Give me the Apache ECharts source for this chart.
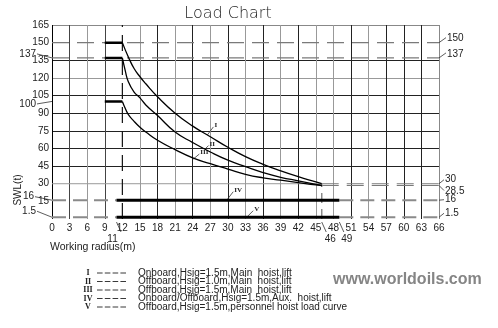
<!DOCTYPE html>
<html>
<head>
<meta charset="utf-8">
<script src="https://cdn.jsdelivr.net/npm/echarts@6/dist/echarts.min.js"></script>
<style>
  html, body { margin: 0; padding: 0; background: #fff; }
  #chart { width: 498px; height: 328px; }
</style>
</head>
<body>
<div id="chart"></div>
<script>
// Safe working load (t) against working radius (m) for each hoist condition
const curveIRadius   = [12, 13, 14, 15, 16, 18, 21, 24, 27, 30, 33, 36, 39, 42, 45, 46];
const curveILoad     = [150, 138, 128, 121, 115, 104, 90, 79, 70, 61, 53, 46.5, 41, 36, 31.5, 30];
const curveIIRadius  = [12, 12.5, 13, 14, 15, 16, 18, 21, 24, 27, 30, 33, 36, 39, 42, 45, 46];
const curveIILoad    = [137, 126, 117, 108, 103, 97, 88, 74, 65, 57, 50, 44.5, 39.5, 35.5, 32.5, 29.5, 28.5];
const curveIIIRadius = [12, 12.5, 13, 14, 15, 16, 18, 21, 24, 27, 30, 33, 36, 39, 42, 45, 46];
const curveIIILoad   = [100, 94, 89, 83, 78, 74, 67, 59, 52, 47, 42.5, 38, 35, 33, 31, 29, 28.5];

// Constant-load segment before the minimum radius
const flatRadius = [9, 12];
const maxLoads = [150, 137, 100];

// Aux hoist (IV) and personnel hoist (V)
const auxRadius = [11, 49];
const auxLoad = 16;
const personnelLoad = 1.5;

// Reference values called out around the grid
const minRadius = 12;
const maxMainRadius = 46;
const leftMarks = [137, 100, 16, 1.5];
const rightMarks = [150, 137, 30, 28.5, 16, 1.5];
const bottomMarks = [11, 46, 49];

const radiusMax = 66, radiusStep = 3;
const loadMax = 165, loadStep = 15;

const legendNumerals = ['I', 'II', 'III', 'IV', 'V'];
const legendTexts = [
  'Onboard,Hsig=1.5m,Main  hoist,lift',
  'Offboard,Hsig=1.0m,Main  hoist,lift',
  'Offboard,Hsig=1.5m,Main  hoist,lift',
  'Onboard/Offboard,Hsig=1.5m,Aux.  hoist,lift',
  'Offboard,Hsig=1.5m,personnel hoist load curve'
];

const FONT = '"Liberation Sans", Arial, sans-serif';
const pairs = (xs, ys) => xs.map((x, i) => [x, ys[i]]);
const flat = (xs, y) => xs.map(x => [x, y]);

const chart = echarts.init(document.getElementById('chart'), null, { renderer: 'canvas' });

function lineSeries(data, style, extra) {
  return Object.assign({
    type: 'line', data: data, symbol: 'none', silent: true,
    lineStyle: style, animation: false
  }, extra || {});
}

const dashGray = { color: '#7a7a7a', width: 1.2, type: [17, 8] };
const dashGrayThick = { color: '#8a8a8a', width: 2, type: [14, 7] };
const curveStyle = { color: '#000', width: 1.3 };

const xGridColors = ['#000', '#444', '#999', '#444', 'rgba(0,0,0,0)', '#999', '#222', '#999',
  '#222', '#999', '#222', '#999', '#222', '#999', '#222', '#999', '#999', '#222', '#999',
  '#222', '#222', '#222', '#888'];
const yGridColors = ['rgba(0,0,0,0)', 'rgba(0,0,0,0)', 'rgba(0,0,0,0)', '#222', '#222', '#222',
  '#222', '#222', '#999', '#222', 'rgba(0,0,0,0)', '#888'];

const option = {
  animation: false,
  grid: { left: 52, right: 59, top: 25, bottom: 109 },
  xAxis: {
    type: 'value', min: 0, max: radiusMax, interval: radiusStep,
    axisLine: { show: false }, axisTick: { show: false },
    axisLabel: { color: '#222', fontSize: 10, fontFamily: FONT, margin: 4 },
    splitLine: { show: true, lineStyle: { color: xGridColors, width: 1 } }
  },
  yAxis: {
    type: 'value', min: 0, max: loadMax, interval: loadStep,
    axisLine: { show: false }, axisTick: { show: false },
    axisLabel: {
      color: '#222', fontSize: 10, fontFamily: FONT, margin: 3,
      formatter: v => (v === 0 ? '' : String(v))
    },
    splitLine: { show: true, lineStyle: { color: yGridColors, width: 1 } }
  },
  series: [
    // horizontal reference lines
    lineSeries(flat([0, radiusMax], maxLoads[0]), dashGray),
    lineSeries(flat([0, radiusMax], maxLoads[1]), dashGray),
    lineSeries(flat([0, maxMainRadius], 30), { color: '#999', width: 1 }),
    lineSeries(flat([maxMainRadius, radiusMax], rightMarks[2]), dashGray),
    lineSeries(flat([maxMainRadius, radiusMax], rightMarks[3]), dashGray),
    lineSeries(flat([0, auxRadius[0]], auxLoad), dashGrayThick),
    lineSeries(flat([auxRadius[1], radiusMax], auxLoad), dashGrayThick),
    lineSeries(flat([0, auxRadius[0]], personnelLoad), dashGrayThick),
    lineSeries(flat([auxRadius[1], radiusMax], personnelLoad), dashGrayThick),
    // vertical reference lines
    lineSeries([[minRadius, 0], [minRadius, loadMax]], { color: '#111', width: 1.2, type: [16, 8] }),
    lineSeries([[maxMainRadius, 0], [maxMainRadius, 30]], { color: '#8a8a8a', width: 1.5, type: [10, 6] }),
    // main hoist curves
    lineSeries(flat(flatRadius, maxLoads[0]), { color: '#000', width: 2.5 }),
    lineSeries(flat(flatRadius, maxLoads[1]), { color: '#000', width: 2.5 }),
    lineSeries(flat(flatRadius, maxLoads[2]), { color: '#000', width: 2.5 }),
    lineSeries(pairs(curveIRadius, curveILoad), curveStyle, { smooth: true }),
    lineSeries(pairs(curveIIRadius, curveIILoad), curveStyle, { smooth: true }),
    lineSeries(pairs(curveIIIRadius, curveIIILoad), curveStyle, { smooth: true }),
    // aux and personnel hoist
    lineSeries(flat(auxRadius, auxLoad), { color: '#000', width: 3 }),
    lineSeries(flat(auxRadius, personnelLoad), { color: '#000', width: 3 })
  ]
};
chart.setOption(option);

// Callouts: leader lines and labels placed relative to data points
function px(x, y) { return chart.convertToPixel({ gridIndex: 0 }, [x, y]); }
const g = [];
function leader(p, a, b) {
  g.push({ type: 'line', silent: true,
    shape: { x1: p[0] + a[0], y1: p[1] + a[1], x2: p[0] + b[0], y2: p[1] + b[1] },
    style: { stroke: '#333', lineWidth: 0.8 } });
}
function label(p, off, text, align, size, family, weight) {
  g.push({ type: 'text', silent: true, x: p[0] + off[0], y: p[1] + off[1],
    style: { text: text, fill: '#222', fontSize: size || 10, fontFamily: family || FONT,
      fontWeight: weight || 'normal', align: align || 'left', verticalAlign: 'middle' } });
}

// left side values
const leftOff = { 137: [[-15, -4], [-16, -4]], 100: [[-15, 2.5], [-16, 2.5]],
  16: [[-17, -3.5], [-18, -4]], 1.5: [[-15, -6], [-16, -6]] };
leftMarks.forEach(v => {
  const p = px(0, v);
  leader(p, [0, 0], leftOff[v][0]);
  label(p, leftOff[v][1], String(v), 'right');
});

// right side values
const rightOff = { 150: [[7, -5], [8, -4.5]], 137: [[7, -5], [8, -4]], 30: [[5, -4], [6, -4]],
  28.5: [[5, 5], [6, 5.5]], 16: [[5, -0.5], [6, -0.5]], 1.5: [[5, -4], [6, -4]] };
rightMarks.forEach(v => {
  const p = px(radiusMax, v);
  leader(p, [0, 0], rightOff[v][0]);
  label(p, rightOff[v][1], String(v), 'left');
});

// radius call-outs under the axis
const bottomOff = { 11: [-4, 20], 46: [8.5, 20], 49: [7.5, 20] };
bottomMarks.forEach(v => {
  const p = px(v, 0);
  leader(p, [0, 3], [4.5, 13]);
  label(p, bottomOff[v], String(v), 'center');
});

// curve identifiers
const SERIF = '"Liberation Serif", "DejaVu Serif", serif';
const curveTags = [
  { at: px(26.5, 71.5), a: [6, -8], t: [7, -10], s: 'I' },
  { at: px(26.1, 59.5), a: [3.5, -3.5], t: [4.5, -5], s: 'II' },
  { at: px(24.1, 51), a: [6, -5], t: [7, -7], s: 'III' },
  { at: px(29.8, auxLoad), a: [6.5, -8.5], t: [7.5, -10], s: 'IV' },
  { at: px(33.2, personnelLoad), a: [6.5, -6.5], t: [7.5, -8.5], s: 'V' }
];
curveTags.forEach(c => {
  leader(c.at, [0, 0], c.a);
  label(c.at, c.t, c.s, 'left', 7, SERIF, 'bold');
});

// title and axis names
g.push({ type: 'text', silent: true, x: 228, y: 14,
  style: { text: 'Load Chart', fill: '#222', fontSize: 16, fontWeight: 300,
    fontFamily: '"DejaVu Sans", sans-serif', align: 'center', verticalAlign: 'middle' } });
g.push({ type: 'text', silent: true, x: 18, y: 190, rotation: Math.PI / 2,
  style: { text: 'SWL(t)', fill: '#222', fontSize: 10, fontFamily: FONT,
    align: 'center', verticalAlign: 'middle' } });
g.push({ type: 'text', silent: true, x: 50, y: 247,
  style: { text: 'Working radius(m)', fill: '#222', fontSize: 10.5, fontFamily: FONT,
    align: 'left', verticalAlign: 'middle' } });

// legend block
const rowY = [273, 281.5, 290, 298.5, 307];
legendNumerals.forEach((n, i) => {
  const y = rowY[i];
  g.push({ type: 'text', silent: true, x: 88, y: y,
    style: { text: n, fill: '#222', fontSize: 8, fontWeight: 'bold', fontFamily: SERIF,
      align: 'center', verticalAlign: 'middle' } });
  g.push({ type: 'line', silent: true, shape: { x1: 97, y1: y, x2: 126, y2: y },
    style: { stroke: '#222', lineWidth: 0.9, lineDash: [5.6, 2.2] } });
  g.push({ type: 'text', silent: true, x: 138, y: y,
    style: { text: legendTexts[i], fill: '#222', fontSize: 10, fontFamily: FONT,
      align: 'left', verticalAlign: 'middle' } });
});

// site mark
g.push({ type: 'text', silent: true, x: 333, y: 280,
  style: { text: 'www.worldoils.com', fill: '#858585', fontSize: 16, fontWeight: 'bold',
    fontFamily: '"Liberation Sans", Arial, sans-serif', align: 'left', verticalAlign: 'middle' } });

chart.setOption({ graphic: g });
</script>
</body>
</html>
